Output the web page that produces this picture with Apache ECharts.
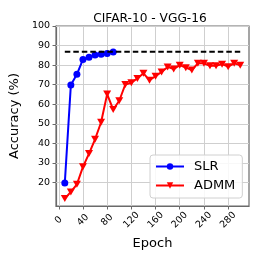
<!DOCTYPE html>
<html>
<head>
<meta charset="utf-8">
<script src="https://cdn.jsdelivr.net/npm/echarts@6/dist/echarts.min.js"></script>
<style>
html,body{margin:0;padding:0;background:#fff;}
#c{width:263px;height:263px;}
</style>
</head>
<body>
<div id="c"></div>
<script>
// Data
const slrEpochs = [10, 20, 30, 40, 50, 60, 70, 80, 90];
const slrAcc = [19.8, 69.8, 75.3, 82.9, 84.0, 85.2, 85.5, 86.0, 86.7];
const admmEpochs = [10, 20, 30, 40, 50, 60, 70, 80, 90, 100, 110, 120, 130, 140, 150, 160, 170, 180, 190, 200, 210, 220, 230, 240, 250, 260, 270, 280, 290, 300];
const admmAcc = [11.8, 15.2, 19.1, 28.0, 34.8, 42.1, 50.8, 65.2, 57.3, 61.8, 70.1, 71.0, 73.2, 75.8, 72.3, 74.3, 76.5, 79.1, 78.0, 80.0, 78.7, 77.5, 80.9, 80.9, 79.7, 79.7, 80.5, 79.2, 80.9, 80.0];
const refEpochs = [10, 300];
const refAcc = [86.8, 86.8];
const xTicks = [0, 40, 80, 120, 160, 200, 240, 280];
const yTicks = [20, 30, 40, 50, 60, 70, 80, 90, 100];

const zip = (a, b) => a.map((v, i) => [v, b[i]]);
const FONT = 'DejaVu Sans';
const frame = '#6a6a6a';
const gridCol = '#cfcfcf';

const gridLines = xTicks.map(v => ({xAxis: v})).concat(yTicks.map(v => ({yAxis: v})));

const chart = echarts.init(document.getElementById('c'), null, {renderer: 'canvas'});
chart.setOption({
  animation: false,
  backgroundColor: '#fff',
  textStyle: {fontFamily: FONT},
  title: {
    text: 'CIFAR-10 - VGG-16',
    left: 145, top: 8, textAlign: 'center',
    textStyle: {fontFamily: FONT, fontSize: 12.2, fontWeight: 'normal', color: '#000'}
  },
  grid: {
    left: 53, top: 26, right: 14, bottom: 57,
    show: true, borderColor: frame, borderWidth: 1.2, backgroundColor: 'transparent'
  },
  xAxis: {
    type: 'value', min: -4.5, max: 314.5,
    name: 'Epoch', nameLocation: 'middle', nameGap: 31,
    nameTextStyle: {fontFamily: FONT, fontSize: 13, color: '#000'},
    axisLine: {show: true, onZero: false, lineStyle: {color: frame, width: 1.2}},
    axisTick: {show: true, inside: false, length: 3.5, customValues: xTicks, lineStyle: {color: frame, width: 1}},
    axisLabel: {customValues: xTicks, rotate: 45, align: 'center', verticalAlign: 'middle', margin: 14,
      fontFamily: FONT, fontSize: 9.5, color: '#000'},
    splitLine: {show: false}
  },
  yAxis: {
    type: 'value', min: 8, max: 100,
    name: 'Accuracy (%)', nameLocation: 'middle', nameGap: 30,
    nameTextStyle: {fontFamily: FONT, fontSize: 13, color: '#000'},
    axisLine: {show: true, onZero: false, lineStyle: {color: frame, width: 1.2}},
    axisTick: {show: true, inside: false, length: 3.5, customValues: yTicks, lineStyle: {color: frame, width: 1}},
    axisLabel: {customValues: yTicks, margin: 6, fontFamily: FONT, fontSize: 9.5, color: '#000'},
    splitLine: {show: false}
  },
  legend: {
    data: ['SLR', 'ADMM'],
    orient: 'vertical', left: 150, top: 155, z: 10,
    padding: [5, 7, 6, 5],
    itemWidth: 28, itemHeight: 8, itemGap: 6,
    backgroundColor: 'rgba(255,255,255,0.85)',
    borderColor: '#d0d0d0', borderWidth: 1, borderRadius: 3,
    textStyle: {fontFamily: FONT, fontSize: 13, color: '#000', padding: [0, 0, 0, 5]}
  },
  series: [
    {
      name: 'gridlines', type: 'line', data: [], z: 2, silent: true,
      markLine: {
        silent: true, symbol: 'none', label: {show: false}, animation: false, z: 2,
        lineStyle: {color: gridCol, width: 1, type: 'solid'},
        emphasis: {disabled: true},
        data: gridLines
      }
    },
    {
      name: 'SLR', type: 'line', data: zip(slrEpochs, slrAcc),
      symbol: 'circle', symbolSize: 7, showAllSymbol: true,
      lineStyle: {color: '#0000ff', width: 2},
      itemStyle: {color: '#0000ff'}, z: 3
    },
    {
      name: 'ADMM', type: 'line', data: zip(admmEpochs, admmAcc),
      symbol: 'path://M0,0L10,0L5,9Z', symbolSize: [8, 7], showAllSymbol: true,
      lineStyle: {color: '#ff0000', width: 2},
      itemStyle: {color: '#ff0000'}, z: 4
    },
    {
      name: 'ref', type: 'line', data: zip(refEpochs, refAcc),
      symbol: 'none',
      lineStyle: {color: '#000', width: 2, type: [5.5, 3]}, z: 5
    }
  ]
});
</script>
</body>
</html>
